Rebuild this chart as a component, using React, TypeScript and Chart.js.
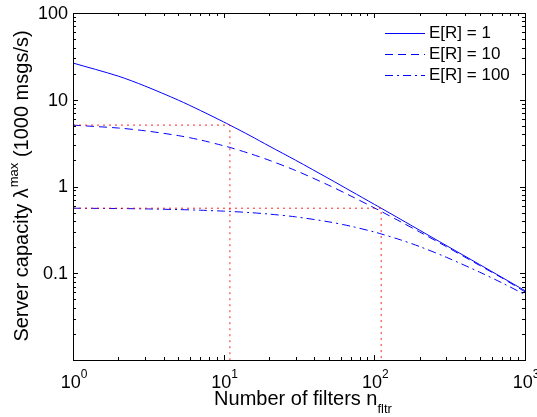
import { useEffect, useRef } from 'react';
import { Chart, registerables } from 'chart.js';

Chart.register(...registerables);

// Number of filters (x axis, log scale)
const filters = [1, 2, 3, 5, 7, 10, 11, 15, 20, 30, 50, 70, 100, 111, 150, 200, 300, 500, 700, 1000];

// Server capacity (1000 msgs/s) for each mean response size E[R]
const capacityER1 = [26.5, 18.7, 14.4, 9.9, 7.53, 5.55, 5.1, 3.85, 2.93, 2.01, 1.23, 0.884, 0.623, 0.562, 0.417, 0.313, 0.209, 0.126, 0.09, 0.063];
const capacityER10 = [5.1, 4.72, 4.39, 3.86, 3.44, 2.95, 2.82, 2.39, 2.01, 1.53, 1.03, 0.776, 0.567, 0.516, 0.391, 0.299, 0.203, 0.123, 0.0887, 0.061];
const capacityER100 = [0.562, 0.557, 0.552, 0.542, 0.533, 0.52, 0.516, 0.5, 0.481, 0.447, 0.391, 0.348, 0.299, 0.284, 0.242, 0.203, 0.153, 0.103, 0.0778, 0.0568];

// Dotted guides: capacity level and the filter count where E[R] = 1 reaches it
const guideLevels = [5.1, 0.562];
const guideFilters = [11, 111];

const seriesLabels = ['E[R] = 1', 'E[R] = 10', 'E[R] = 100'];
const seriesDashes: number[][] = [[], [8, 5], [8, 4, 2, 4]];

const xTickExponents = [0, 1, 2, 3];
const yTickValues = [100, 10, 1, 0.1];
const yTickLabels = ['100', '10', '1', '0.1'];

const xMin = 1;
const xMax = 1000;
const yMin = 0.01;
const yMax = 100;

const FONT = '"Liberation Sans", Arial, Helvetica, sans-serif';
const BLUE = '#0000ff';
const RED = 'rgba(255,0,0,0.85)';

const toPoints = (ys: number[]) => filters.map((x, i) => ({ x, y: ys[i] }));

const framePlugin = {
  id: 'matlabFrame',
  afterDraw(chart: any) {
    const { ctx, chartArea, scales } = chart;
    const { left, right, top, bottom } = chartArea;
    const xs = scales.x;
    const ys = scales.y;
    ctx.save();
    ctx.strokeStyle = '#000';
    ctx.lineWidth = 1;
    ctx.setLineDash([]);

    // box
    ctx.strokeRect(Math.round(left) + 0.5, Math.round(top) + 0.5, Math.round(right - left), Math.round(bottom - top));

    const major = 5;
    const minor = 3;
    ctx.beginPath();
    // x ticks (bottom and top, inward)
    for (let e = 0; e <= 3; e++) {
      for (let k = 1; k <= 9; k++) {
        const v = k * Math.pow(10, e);
        if (v < xMin || v > xMax) continue;
        const px = Math.round(xs.getPixelForValue(v)) + 0.5;
        const len = k === 1 ? major : minor;
        ctx.moveTo(px, bottom);
        ctx.lineTo(px, bottom - len);
        ctx.moveTo(px, top);
        ctx.lineTo(px, top + len);
      }
    }
    // y ticks (left and right, inward)
    for (let e = -2; e <= 2; e++) {
      for (let k = 1; k <= 9; k++) {
        const v = k * Math.pow(10, e);
        if (v < yMin || v > yMax) continue;
        const py = Math.round(ys.getPixelForValue(v)) + 0.5;
        const len = k === 1 ? major : minor;
        ctx.moveTo(left, py);
        ctx.lineTo(left + len, py);
        ctx.moveTo(right, py);
        ctx.lineTo(right - len, py);
      }
    }
    ctx.stroke();

    ctx.fillStyle = '#000';
    // y tick labels
    ctx.font = `18px ${FONT}`;
    ctx.textAlign = 'right';
    ctx.textBaseline = 'middle';
    yTickValues.forEach((v, i) => {
      ctx.fillText(yTickLabels[i], left - 5, ys.getPixelForValue(v) + 1);
    });

    // x tick labels: 10^e
    ctx.textAlign = 'left';
    ctx.textBaseline = 'alphabetic';
    xTickExponents.forEach((e) => {
      const px = xs.getPixelForValue(Math.pow(10, e));
      ctx.font = `18px ${FONT}`;
      const w1 = ctx.measureText('10').width;
      ctx.font = `12px ${FONT}`;
      const w2 = ctx.measureText(String(e)).width;
      const sx = px - (w1 + w2) / 2 + 1;
      ctx.font = `18px ${FONT}`;
      ctx.fillText('10', sx, 388);
      ctx.font = `12px ${FONT}`;
      ctx.fillText(String(e), sx + w1, 378);
    });

    // x title with subscript
    {
      const main = 'Number of filters n';
      const sub = 'fltr';
      ctx.font = `20px ${FONT}`;
      const w1 = ctx.measureText(main).width;
      ctx.font = `13px ${FONT}`;
      const w2 = ctx.measureText(sub).width;
      const sx = (left + right) / 2 - (w1 + w2) / 2 + 4;
      ctx.font = `20px ${FONT}`;
      ctx.fillText(main, sx, 405);
      ctx.font = `13px ${FONT}`;
      ctx.fillText(sub, sx + w1, 413);
    }

    // y title with superscript, rotated
    {
      const a = 'Server capacity \u03bb';
      const sup = 'max';
      const b = ' (1000 msgs/s)';
      ctx.font = `20px ${FONT}`;
      const wa = ctx.measureText(a).width;
      const wb = ctx.measureText(b).width;
      ctx.font = `13px ${FONT}`;
      const ws = ctx.measureText(sup).width;
      const total = wa + ws + wb;
      ctx.translate(28, (top + bottom) / 2);
      ctx.rotate(-Math.PI / 2);
      const sx = -total / 2;
      ctx.font = `20px ${FONT}`;
      ctx.fillText(a, sx, 0);
      ctx.font = `13px ${FONT}`;
      ctx.fillText(sup, sx + wa + 1, -10);
      ctx.font = `20px ${FONT}`;
      ctx.fillText(b, sx + wa + ws + 1, 0);
      ctx.setTransform(1, 0, 0, 1, 0, 0);
    }

    // legend
    ctx.font = `17px ${FONT}`;
    ctx.textBaseline = 'middle';
    ctx.textAlign = 'left';
    seriesLabels.forEach((label, i) => {
      const y = 32.5 + i * 21;
      ctx.strokeStyle = BLUE;
      ctx.lineWidth = 1;
      ctx.setLineDash(seriesDashes[i]);
      ctx.beginPath();
      ctx.moveTo(385, Math.round(y) + 0.5);
      ctx.lineTo(425, Math.round(y) + 0.5);
      ctx.stroke();
      ctx.setLineDash([]);
      ctx.fillStyle = '#000';
      ctx.fillText(label, 429, y + 1);
    });
    ctx.restore();
  },
};

export default function App() {
  const canvasRef = useRef<HTMLCanvasElement | null>(null);

  useEffect(() => {
    document.body.style.margin = '0';
    const canvas = canvasRef.current;
    if (!canvas) return;

    const series = [capacityER1, capacityER10, capacityER100].map((ys, i) => ({
      label: seriesLabels[i],
      data: toPoints(ys),
      borderColor: BLUE,
      borderWidth: 1,
      borderDash: seriesDashes[i],
      pointRadius: 0,
      tension: 0.3,
      fill: false,
    }));

    const guides = guideLevels.map((level, i) => ({
      label: `guide ${i + 1}`,
      data: [
        { x: xMin, y: level },
        { x: guideFilters[i], y: level },
        { x: guideFilters[i], y: yMin },
      ],
      borderColor: RED,
      borderWidth: 1,
      borderDash: [2, 4],
      pointRadius: 0,
      tension: 0,
      fill: false,
    }));

    const chart = new Chart(canvas, {
      type: 'line',
      data: { datasets: [...guides, ...series] },
      options: {
        responsive: false,
        animation: false,
        devicePixelRatio: 1,
        layout: { padding: { left: 73, top: 13, right: 12, bottom: 57 } },
        plugins: { legend: { display: false }, tooltip: { enabled: false } },
        scales: {
          x: { type: 'logarithmic', min: xMin, max: xMax, display: false },
          y: { type: 'logarithmic', min: yMin, max: yMax, display: false },
        },
      },
      plugins: [framePlugin],
    });

    return () => chart.destroy();
  }, []);

  return <canvas ref={canvasRef} width={537} height={417} style={{ display: 'block', background: '#fff' }} />;
}
